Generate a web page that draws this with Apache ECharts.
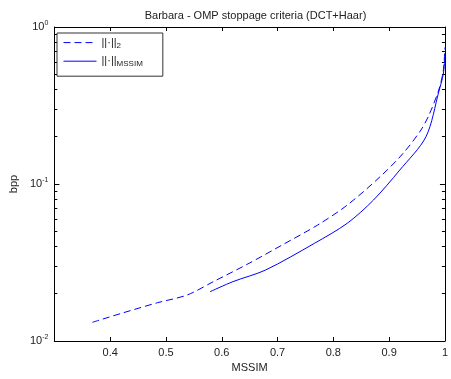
<!DOCTYPE html>
<html>
<head>
<meta charset="utf-8">
<script src="https://cdn.jsdelivr.net/npm/echarts@6/dist/echarts.min.js"></script>
<style>html,body{margin:0;padding:0;background:#fff;}#c{width:451px;height:379px;}</style>
</head>
<body>
<div id="c"></div>
<script>
// Data
const l2X = [0.368, 0.42, 0.485, 0.538, 0.585, 0.649, 0.708, 0.772, 0.825, 0.884, 0.925, 0.957, 0.9715, 0.989, 0.997, 1.0];
const l2Y = [0.01315, 0.0150, 0.01754, 0.01963, 0.02388, 0.03126, 0.04083, 0.05483, 0.07345, 0.1114, 0.1567, 0.2208, 0.2754, 0.398, 0.525, 0.741];
const msX = [0.579, 0.62, 0.6785, 0.766, 0.825, 0.872, 0.919, 0.966, 0.989, 0.997, 1.0];
const msY = [0.0206, 0.02388, 0.02831, 0.04188, 0.05623, 0.07907, 0.1227, 0.2, 0.387, 0.501, 0.646];
const xTicks = [0.4, 0.5, 0.6, 0.7, 0.8, 0.9, 1];
const yMajor = [0.01, 0.1, 1];
const yMinor = [0.02,0.03,0.04,0.05,0.06,0.07,0.08,0.09,0.2,0.3,0.4,0.5,0.6,0.7,0.8,0.9];
const seriesNames = ['l2', 'mssim'];

const FONT = 'Liberation Sans, Arial, Helvetica, sans-serif';
const TXT = '#222';
const grid = {left: 51.5, right: 1.5, top: 27, bottom: 38};
const pair = (xs, ys) => xs.map((x, i) => [x, ys[i]]);

const yBase = {
  type: 'log', logBase: 10, min: 0.01, max: 1, gridIndex: 0,
  splitLine: {show: false}, minorTick: {show: false}
};
const chart = echarts.init(document.getElementById('c'), null, {renderer: 'canvas'});
chart.setOption({
  animation: false,
  backgroundColor: '#fff',
  title: {
    text: 'Barbara - OMP stoppage criteria (DCT+Haar)',
    left: 250.5, top: 5, textAlign: 'center',
    textStyle: {fontFamily: FONT, fontSize: 11, fontWeight: 'normal', color: TXT}
  },
  grid: grid,
  legend: {
    left: 57, top: 33, orient: 'vertical',
    backgroundColor: '#fff', borderColor: '#333', borderWidth: 1, borderRadius: 0,
    padding: [4, 20, 8, 6], itemGap: 6, itemWidth: 33, itemHeight: 14,
    data: seriesNames,
    itemStyle: {opacity: 0},
    lineStyle: {width: 1},
    formatter: n => n === 'l2' ? '{n|||·||}{s|2}' : '{n|||·||}{s|MSSIM}',
    textStyle: {
      fontFamily: FONT, fontSize: 11, color: TXT,
      rich: {
        n: {fontFamily: FONT, fontSize: 11, color: TXT},
        s: {fontFamily: FONT, fontSize: 8, color: TXT, padding: [6, 0, 0, 0]}
      }
    }
  },
  xAxis: [
    {
      type: 'value', min: 0.3, max: 1, interval: 0.1, position: 'bottom',
      name: 'MSSIM', nameLocation: 'middle', nameGap: 20,
      nameTextStyle: {fontFamily: FONT, fontSize: 11, color: TXT},
      axisLine: {show: true, lineStyle: {color: '#000', width: 1}},
      axisTick: {show: true, inside: true, length: 4, customValues: xTicks, lineStyle: {color: '#000'}},
      axisLabel: {
        fontFamily: FONT, fontSize: 11, color: TXT, margin: 6,
        customValues: xTicks,
        formatter: v => String(Math.round(v * 10) / 10)
      },
      splitLine: {show: false}
    },
    {
      type: 'value', min: 0.3, max: 1, interval: 0.1, position: 'top',
      axisLine: {show: true, lineStyle: {color: '#000', width: 1}},
      axisTick: {show: true, inside: true, length: 4, customValues: xTicks, lineStyle: {color: '#000'}},
      axisLabel: {show: false}, splitLine: {show: false}
    }
  ],
  yAxis: [
    Object.assign({}, yBase, {
      position: 'left', interval: 1,
      name: 'bpp', nameLocation: 'middle', nameGap: 34, nameRotate: 90,
      nameTextStyle: {fontFamily: FONT, fontSize: 11, color: TXT},
      axisLine: {show: true, lineStyle: {color: '#000', width: 1}},
      axisTick: {show: true, inside: true, length: 5, customValues: yMajor, lineStyle: {color: '#000'}},
      axisLabel: {
        customValues: yMajor, margin: 6,
        formatter: v => '{b|10}{e|' + Math.round(Math.log10(v)) + '}',
        rich: {
          b: {fontFamily: FONT, fontSize: 11, color: TXT},
          e: {fontFamily: FONT, fontSize: 7, color: TXT, padding: [0, 0, 8, 0]}
        }
      }
    }),
    Object.assign({}, yBase, {
      position: 'left',
      axisLine: {show: false},
      axisTick: {show: true, inside: true, length: 3, customValues: yMinor, lineStyle: {color: '#000'}},
      axisLabel: {show: false}
    }),
    Object.assign({}, yBase, {
      position: 'right',
      axisLine: {show: true, lineStyle: {color: '#000', width: 1}},
      axisTick: {show: true, inside: true, length: 5, customValues: yMajor, lineStyle: {color: '#000'}},
      axisLabel: {show: false}
    }),
    Object.assign({}, yBase, {
      position: 'right',
      axisLine: {show: false},
      axisTick: {show: true, inside: true, length: 3, customValues: yMinor, lineStyle: {color: '#000'}},
      axisLabel: {show: false}
    })
  ],
  series: [
    {
      name: 'l2', type: 'line', xAxisIndex: 0, yAxisIndex: 0,
      data: pair(l2X, l2Y), symbol: 'none', smooth: 0.3,
      lineStyle: {color: '#0000ff', width: 1, type: [7, 4]},
      itemStyle: {color: '#0000ff'}
    },
    {
      name: 'mssim', type: 'line', xAxisIndex: 0, yAxisIndex: 0,
      data: pair(msX, msY), symbol: 'none', smooth: 0.3,
      lineStyle: {color: '#0000ff', width: 1, type: 'solid'},
      itemStyle: {color: '#0000ff'}
    }
  ]
});
</script>
</body>
</html>
